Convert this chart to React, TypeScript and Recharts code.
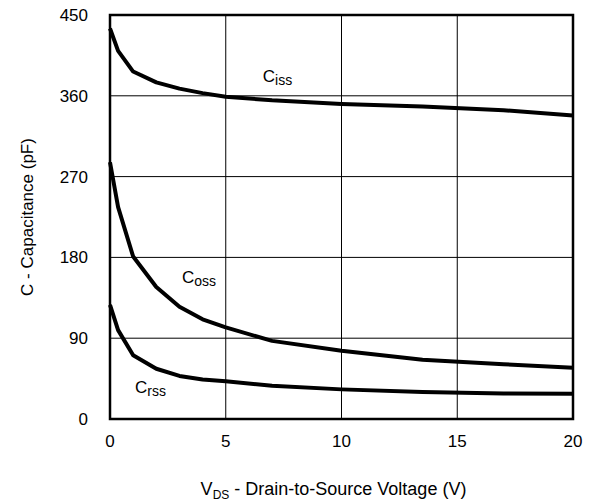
import React from 'react';
import { LineChart, Line, XAxis, YAxis, CartesianGrid, ReferenceDot, ReferenceArea, Label } from 'recharts';

// V_DS sample points (V)
const vds = [0, 0.35, 1, 2, 3, 4, 5, 7, 10, 13.5, 17, 20];

// Capacitance readings (pF)
const ciss = [435, 410, 387, 375, 368, 363, 359, 355, 351, 348, 344, 338];
const coss = [286, 236, 181, 147, 125, 111, 102, 87, 76, 66, 61, 57];
const crss = [127, 99, 71, 56, 48, 44, 42, 37, 33, 30, 28.5, 28];

const xTicks = [0, 5, 10, 15, 20];
const yTicks = [0, 90, 180, 270, 360, 450];

const curveLabels = [
  { name: 'iss', x: 6.6, y: 382 },
  { name: 'oss', x: 3.11, y: 158 },
  { name: 'rss', x: 1.08, y: 36 },
];

const data = vds.map((v, i) => ({ v, ciss: ciss[i], coss: coss[i], crss: crss[i] }));

const FONT = '"Liberation Sans", Arial, Helvetica, sans-serif';

const CapLabel = (props: any) => {
  const { viewBox, sub } = props;
  return (
    <text x={viewBox.x} y={viewBox.y + 6} fontFamily={FONT} fontSize={17} fill="#000">
      C
      <tspan fontSize={14} dy={3}>{sub}</tspan>
    </text>
  );
};

const XTitle = (props: any) => {
  const { viewBox } = props;
  const cx = viewBox.x + viewBox.width / 2;
  return (
    <text x={cx - 8} y={viewBox.y + 76} textAnchor="middle" fontFamily={FONT} fontSize={18} fill="#000">
      V<tspan fontSize={12} dy={4}>DS</tspan>
      <tspan dy={-4}> - Drain-to-Source Voltage (V)</tspan>
    </text>
  );
};

export default function App() {
  return (
    <div style={{ position: 'absolute', left: 0, top: 0, width: 600, height: 502, background: '#fff' }}>
      <LineChart width={600} height={502} data={data} margin={{ top: 15, right: 27, bottom: 0, left: 0 }}>
        <CartesianGrid xAxisId="b" yAxisId="l" stroke="#000" strokeWidth={1} />
        <XAxis
          xAxisId="b"
          dataKey="v"
          type="number"
          domain={[0, 20]}
          ticks={xTicks}
          height={83}
          tickLine={false}
          axisLine={false}
          tick={{ fill: '#000', fontSize: 17, fontFamily: FONT }}
          tickMargin={10}
        >
          <Label content={<XTitle />} />
        </XAxis>
        <YAxis
          yAxisId="l"
          type="number"
          domain={[0, 450]}
          ticks={yTicks}
          width={110}
          tickLine={false}
          axisLine={false}
          tick={{ fill: '#000', fontSize: 17, fontFamily: FONT }}
          tickMargin={16}
        >
          <Label
            value="C - Capacitance (pF)"
            angle={-90}
            position="insideLeft"
            offset={27}
            style={{ textAnchor: 'middle', fill: '#000', fontSize: 17, fontFamily: FONT }}
          />
        </YAxis>
        <ReferenceArea
          xAxisId="b"
          yAxisId="l"
          x1={0}
          x2={20}
          y1={0}
          y2={450}
          fill="none"
          fillOpacity={0}
          stroke="#000"
          strokeWidth={2.5}
          ifOverflow="visible"
        />
        <Line xAxisId="b" yAxisId="l" dataKey="ciss" type="linear" stroke="#000" strokeWidth={4} strokeLinejoin="round" dot={false} isAnimationActive={false} />
        <Line xAxisId="b" yAxisId="l" dataKey="coss" type="linear" stroke="#000" strokeWidth={4} strokeLinejoin="round" dot={false} isAnimationActive={false} />
        <Line xAxisId="b" yAxisId="l" dataKey="crss" type="linear" stroke="#000" strokeWidth={4} strokeLinejoin="round" dot={false} isAnimationActive={false} />
        {curveLabels.map((c) => (
          <ReferenceDot
            key={c.name}
            xAxisId="b"
            yAxisId="l"
            x={c.x}
            y={c.y}
            r={0}
            fill="none"
            stroke="none"
            label={<CapLabel sub={c.name} />}
          />
        ))}
      </LineChart>
    </div>
  );
}
